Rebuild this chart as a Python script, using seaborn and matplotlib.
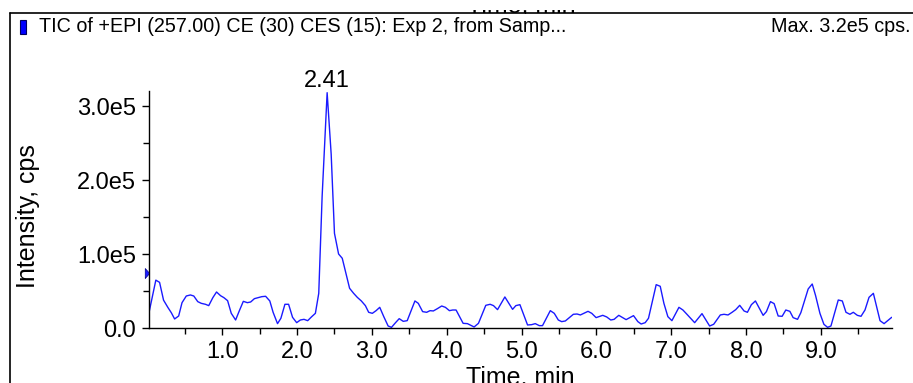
import matplotlib
matplotlib.use("Agg")
import numpy as np
import pandas as pd
import matplotlib.pyplot as plt
from matplotlib.lines import Line2D
from matplotlib.patches import Rectangle
from matplotlib.path import Path
import matplotlib.transforms as mtransforms
import seaborn as sns

# TIC trace (time in min, intensity in cps)
times = [0.015, 0.113, 0.163, 0.216, 0.275, 0.320, 0.364, 0.418, 0.463, 0.520,
         0.575, 0.620, 0.673, 0.720, 0.776, 0.820, 0.875, 0.924, 0.978, 1.022,
         1.072, 1.121, 1.179, 1.224, 1.282, 1.336, 1.380, 1.430, 1.484, 1.529,
         1.580, 1.636, 1.680, 1.739, 1.784, 1.838, 1.887, 1.940, 1.995, 2.044,
         2.093, 2.142, 2.196, 2.245, 2.290, 2.335, 2.402, 2.456, 2.500, 2.555,
         2.604, 2.653, 2.702, 2.756, 2.805, 2.859, 2.913, 2.957, 3.006, 3.056,
         3.105, 3.159, 3.217, 3.262, 3.316, 3.365, 3.419, 3.472, 3.522, 3.575,
         3.620, 3.678, 3.732, 3.777, 3.821, 3.875, 3.933, 3.982, 4.036, 4.080,
         4.125, 4.219, 4.277, 4.366, 4.424, 4.522, 4.580, 4.625, 4.679, 4.777,
         4.880, 4.924, 4.978, 5.080, 5.134, 5.183, 5.237, 5.280, 5.384, 5.437,
         5.491, 5.536, 5.585, 5.692, 5.741, 5.786, 5.888, 5.938, 5.996, 6.085,
         6.138, 6.192, 6.237, 6.299, 6.397, 6.496, 6.554, 6.598, 6.652, 6.696,
         6.799, 6.853, 6.902, 6.955, 7.009, 7.103, 7.156, 7.210, 7.313, 7.411,
         7.513, 7.567, 7.656, 7.705, 7.759, 7.813, 7.862, 7.915, 7.973, 8.018,
         8.071, 8.125, 8.228, 8.272, 8.326, 8.375, 8.429, 8.482, 8.531, 8.585,
         8.629, 8.688, 8.732, 8.830, 8.884, 8.929, 8.987, 9.040, 9.089, 9.134,
         9.232, 9.286, 9.335, 9.388, 9.433, 9.487, 9.536, 9.589, 9.643, 9.701,
         9.790, 9.844, 9.946]

intensity = [18000, 65000, 62000, 38000, 28000, 21000, 12600, 16600, 34600, 43600,
             45000, 43600, 36000, 33700, 32400, 30600, 41400, 49000, 44000, 41400,
             37300, 20200, 11200, 22500, 36400, 34600, 35500, 40000, 41400, 42700,
             43200, 36900, 21600, 6300, 13500, 32400, 32400, 14800, 7600, 11200,
             12100, 10300, 15700, 20200, 47200, 177700, 318000, 235000, 128200, 100300,
             94500, 74200, 54000, 47200, 41800, 36900, 30600, 21600, 20200, 23800,
             28300, 15700, 3100, 1300, 7600, 13000, 9400, 10300, 23400, 36900,
             33700, 22500, 21600, 23800, 23400, 26500, 30100, 28300, 23800, 24700,
             24700, 6700, 6300, 1800, 6700, 31000, 32400, 30600, 25200, 42300,
             25600, 30600, 31900, 4500, 4900, 6300, 3600, 3600, 23800, 20200,
             11200, 9000, 9900, 18900, 19300, 18000, 22900, 20200, 14400, 17500,
             15300, 11200, 12100, 17500, 11700, 17100, 9000, 5800, 7600, 13500,
             58900, 56700, 33700, 15700, 10300, 28300, 24700, 18900, 7600, 19800,
             3100, 5400, 18000, 18900, 18000, 21600, 25200, 31000, 23400, 21600,
             31900, 36900, 17500, 22500, 36000, 33300, 16600, 16200, 24700, 22900,
             14400, 12100, 21100, 53100, 59800, 44100, 20200, 5400, 1300, 3100,
             38200, 36900, 21600, 18900, 21600, 17500, 16200, 24700, 41800, 47200,
             10300, 6300, 14800]

x_ticks = [1, 2, 3, 4, 5, 6, 7, 8, 9]
x_tick_labels = ["1.0", "2.0", "3.0", "4.0", "5.0", "6.0", "7.0", "8.0", "9.0"]
x_minor = [0.5, 1.5, 2.5, 3.5, 4.5, 5.5, 6.5, 7.5, 8.5, 9.5]
y_ticks = [0, 100000, 200000, 300000]
y_tick_labels = ["0.0", "1.0e5", "2.0e5", "3.0e5"]
y_minor = [50000, 150000, 250000]

header = "TIC of +EPI (257.00) CE (30) CES (15): Exp 2, from Samp..."
max_label = "Max. 3.2e5 cps."
peak_label = "2.41"
threshold_level = 75000

sns.set_theme(style="white")
plt.rcParams['font.family'] = ['Liberation Sans', 'DejaVu Sans']

W, H = 913, 383
fig = plt.figure(figsize=(W / 100, H / 100), dpi=100)
ax = fig.add_axes([148.5 / W, 54.7 / H, 743.2 / W, 237.1 / H])

df = pd.DataFrame({"time": times, "intensity": intensity})
sns.lineplot(data=df, x="time", y="intensity", color="#1a1aff", lw=1.0,
             ax=ax, sort=False, estimator=None)

ax.set_xlim(times[0], times[-1])
ax.set_ylim(0, 320000)
for s in ["top", "right"]:
    ax.spines[s].set_visible(False)
for s in ["left", "bottom"]:
    ax.spines[s].set_color("black")
    ax.spines[s].set_linewidth(1.0)

ax.set_xticks(x_ticks)
ax.set_xticklabels(x_tick_labels)
ax.set_xticks(x_minor, minor=True)
ax.set_yticks(y_ticks)
ax.set_yticklabels(y_tick_labels)
ax.set_yticks(y_minor, minor=True)
ax.tick_params(which="both", bottom=True, left=True, direction="out",
               color="black", width=1.0)
ax.tick_params(which="major", length=5, labelsize=17, labelcolor="black", pad=4)
ax.tick_params(which="minor", length=4)

ax.set_xlabel("Time, min", fontsize=18, color="black")
ax.xaxis.set_label_coords(0.5, -0.158)
ax.set_ylabel("Intensity, cps", fontsize=18, color="black")
ax.yaxis.set_label_coords(-0.146, 0.474)

# peak label
i_max = int(np.argmax(intensity))
ax.annotate(peak_label, xy=(times[i_max], intensity[i_max]), xytext=(0, 4),
            textcoords="offset points", ha="center", va="baseline",
            fontsize=17, color="black", annotation_clip=False)

# threshold marker on the y axis
tri = Path([(-0.45, -1.0), (0.45, 0.0), (-0.45, 1.0), (-0.45, -1.0)])
trans = mtransforms.offset_copy(ax.transData, fig=fig, x=-1.3, y=0, units="dots")
ax.plot([times[0]], [threshold_level], marker=tri, ms=7.2, color="#1a1aff",
        mec="#00008b", mew=0.5, clip_on=False, transform=trans, ls="none")

# header line and panel frame
ytop = 1 - 12.7 / H
fig.add_artist(Line2D([9.5 / W, 1], [ytop, ytop], color="black", lw=1.2))
fig.add_artist(Line2D([9.5 / W, 9.5 / W], [0, ytop], color="black", lw=1.2))
fig.add_artist(Rectangle((20 / W, 1 - 34 / H), 6 / W, 14 / H, transform=fig.transFigure,
                         facecolor="#0000ff", edgecolor="#000060", lw=0.8))
fig.text(39 / W, 1 - 27 / H, header, fontsize=14.2, va="center", ha="left", color="black")
fig.text(910 / W, 1 - 27 / H, max_label, fontsize=14.2, va="center", ha="right", color="black")

# x label of the panel above: only its lowest sliver shows above the frame line
top_lbl = fig.text(521 / W, 1 - 12 / H, "Time, min", fontsize=18, va="baseline",
                   ha="center", color="black")
top_lbl.set_clip_box(mtransforms.Bbox([[0, H - 14], [W, H - 9.5]]))
top_lbl.set_clip_on(True)

fig.savefig("out.png", dpi=100)
